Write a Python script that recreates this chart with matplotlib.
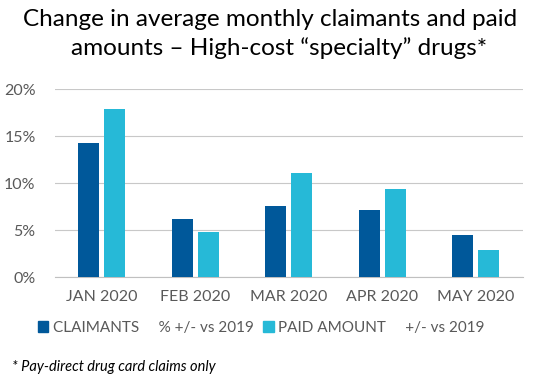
import matplotlib.pyplot as plt
import numpy as np
from matplotlib.patches import Patch

months = ["JAN 2020", "FEB 2020", "MAR 2020", "APR 2020", "MAY 2020"]
claimants = [14.3, 6.2, 7.6, 7.2, 4.5]
paid_amount = [17.9, 4.8, 11.1, 9.4, 2.9]
series_names = ["CLAIMANTS     % +/- vs 2019", "PAID AMOUNT     +/- vs 2019"]
yticks = [0, 5, 10, 15, 20]

dark_blue = "#00589A"
light_blue = "#26B9D7"
grey_text = "#595959"

plt.rcParams["font.family"] = ["Lato", "DejaVu Sans"]

fig = plt.figure(figsize=(5.41, 3.91), dpi=100)
ax = fig.add_axes([0.1017, 0.2908, 0.8644, 0.4808])

x = np.arange(len(months))
w = 0.225
ax.bar(x - 0.139, claimants, w, color=dark_blue, zorder=3)
ax.bar(x + 0.139, paid_amount, w, color=light_blue, zorder=3)

ax.set_xlim(-0.5, len(months) - 0.5)
ax.set_ylim(0, 20)
ax.set_yticks(yticks)
ax.set_yticklabels([f"{v}%" for v in yticks])
ax.set_xticks(x)
ax.set_xticklabels(months)
ax.tick_params(length=0, labelsize=11.5, colors=grey_text)
ax.tick_params(axis="y", pad=14)
ax.tick_params(axis="x", pad=9)
ax.grid(axis="y", color="#c8c8c8", linewidth=0.8, zorder=0)
for s in ["top", "right", "left"]:
    ax.spines[s].set_visible(False)
ax.spines["bottom"].set_color("#c0c0c0")

fig.text(0.5, 0.978, "Change in average monthly claimants and paid",
         ha="center", va="top", fontsize=17.5, color="black")
fig.text(0.515, 0.905, "amounts – High-cost \u201cspecialty\u201d drugs*",
         ha="center", va="top", fontsize=17.5, color="black")

handles = [Patch(color=dark_blue), Patch(color=light_blue)]
fig.legend(handles, series_names, loc="center", bbox_to_anchor=(0.483, 0.162), ncol=2,
           frameon=False, fontsize=11, labelcolor=grey_text, handlelength=0.7,
           handleheight=0.7, handletextpad=0.3, columnspacing=0.6)

fig.text(0.022, 0.062, "* Pay-direct drug card claims only", fontsize=10.5,
         style="italic", ha="left", va="center", color="black")

fig.savefig("out.png", dpi=100)
